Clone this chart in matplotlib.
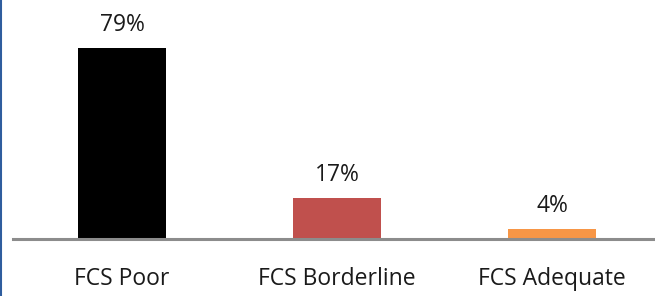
import matplotlib
matplotlib.use("Agg")
import matplotlib.pyplot as plt
from matplotlib.lines import Line2D

categories = ["FCS Poor", "FCS Borderline", "FCS Adequate"]
values = [79, 17, 4]
labels = ["79%", "17%", "4%"]
colors = ["#000000", "#C0504D", "#F79646"]

W, H = 655, 296
fig = plt.figure(figsize=(W / 100, H / 100), dpi=100)
base_px = 239
ax = fig.add_axes([13 / W, (H - base_px) / H, 1 - 13 / W, base_px / H])

FONT = "Open Sans"
x = list(range(len(categories)))
ax.bar(x, values, width=0.41, color=colors, zorder=2)
ax.set_xlim(-0.507, 2.479)
ax.set_ylim(0, 79 * base_px / 191)

for xi, v, lab in zip(x, values, labels):
    ax.annotate(lab, (xi, v), xytext=(0, 16.5), textcoords="offset points",
                ha="center", va="center", fontsize=16.5, family=FONT, color="#1a1a1a")

for s in ["top", "right", "left"]:
    ax.spines[s].set_visible(False)
ax.spines["bottom"].set_color("#8c8c8c")
ax.spines["bottom"].set_linewidth(2.2)
ax.spines["bottom"].set_zorder(3)
ax.set_yticks([])
ax.set_xticks(x)
ax.set_xticklabels(categories, fontsize=16.5, family=FONT, color="#1a1a1a")
ax.tick_params(axis="x", length=0, pad=20)

fig.add_artist(Line2D([1 / W, 1 / W], [0, 1], transform=fig.transFigure,
                      color="#2F5D9E", linewidth=1.5))

fig.savefig("out.png", dpi=100)
